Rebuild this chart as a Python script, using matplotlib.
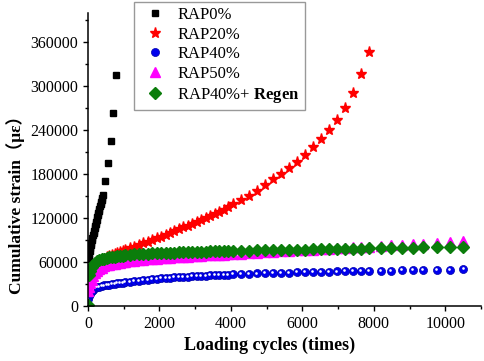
import matplotlib
matplotlib.use("Agg")
import matplotlib.pyplot as plt
from matplotlib.ticker import MultipleLocator
from matplotlib.transforms import offset_copy

plt.rcParams['font.family'] = ['Liberation Serif', 'Noto Sans CJK SC']
plt.rcParams['mathtext.fontset'] = 'custom'
plt.rcParams['mathtext.bf'] = 'Liberation Serif:bold'
plt.rcParams['mathtext.rm'] = 'Liberation Serif'

# RAP0% (black squares)
cycles_0 = [5, 20, 35, 50, 65, 80, 95, 110, 125, 140, 155, 170, 185, 200, 215, 230,
            245, 260, 275, 290, 305, 320, 335, 350, 365, 380, 395, 410,
            485, 560, 636, 700, 775]
strain_0 = [52000, 64000, 71000, 75500, 79500, 83000, 86500, 90000, 93500, 96800,
            100000, 103000, 106000, 109000, 112000, 115000, 118000, 121000, 124000,
            127000, 130000, 133000, 136000, 139000, 142000, 145000, 148000, 151000,
            171000, 195000, 225000, 264000, 316000]

# shared loading cycles for the other mixtures
cycles = [0, 30, 60, 100, 150, 200, 260, 320, 390, 460, 530, 600, 670, 745, 820, 895,
          970, 1045, 1170, 1295, 1420, 1545, 1670, 1795, 1920, 2045, 2170, 2295, 2420,
          2545, 2670, 2795, 2920, 3045, 3170, 3295, 3420, 3545, 3670, 3795, 3920, 4045,
          4270, 4495, 4720, 4945, 5170, 5395, 5620, 5845, 6070, 6295, 6520, 6745, 6970,
          7195, 7420, 7645, 7870, 8200, 8490, 8790, 9090, 9380, 9770, 10140, 10510]

# RAP20% (red stars), stops at 7870 cycles
strain_20 = [32000, 38000, 42000, 46000, 50000, 53000, 56500, 59500, 62500, 64800,
             66800, 68500, 70000, 71500, 73000, 74200, 75500, 76800, 79000, 81200,
             83400, 85600, 87800, 90000, 92300, 94800, 97200, 99700, 102200, 104700,
             107200, 109800, 112400, 115000, 117700, 120400, 123100, 125900, 128700,
             131600, 134500, 139000, 144500, 150500, 157500, 165000, 173000, 180500,
             188200, 196400, 205900, 216400, 227700, 240000, 254600, 270000, 290900,
             316700, 347000]

# RAP40% (blue balls)
strain_40 = [10000, 14000, 17000, 20000, 22500, 24000, 25300, 26300, 27200, 28000,
             28700, 29300, 29900, 30500, 31000, 31500, 32000, 32500, 33300, 34000,
             34700, 35400, 36000, 36600, 37100, 37600, 38100, 38600, 39000, 39400,
             39800, 40200, 40600, 40900, 41200, 41500, 41800, 42100, 42400, 42700,
             43000, 43200, 43600, 44000, 44400, 44700, 45000, 45300, 45600, 45900,
             46200, 46400, 46700, 46900, 47100, 47300, 47500, 47700, 47900, 48200,
             48400, 48600, 48800, 49000, 49300, 49600, 49900]

# RAP50% (magenta triangles)
strain_50 = [21000, 26000, 31000, 36000, 41000, 45000, 48000, 50500, 52500, 54000,
             55300, 56300, 57200, 58000, 58700, 59300, 59900, 60400, 61200, 61900,
             62500, 63100, 63600, 64100, 64600, 65100, 65500, 65900, 66300, 66700,
             67100, 67500, 67900, 68300, 68700, 69000, 69300, 69700, 70000, 70300,
             70700, 71000, 71600, 72200, 72800, 73400, 74000, 74600, 75200, 75800,
             76400, 77000, 77600, 78200, 78800, 79400, 80000, 80600, 81200, 82000,
             82800, 83600, 84400, 85200, 86200, 87200, 88200]

# RAP40% + Regen (green diamonds)
strain_regen = [1500, 42000, 48000, 53000, 56500, 59000, 61000, 62500, 63800, 64800,
                65600, 66300, 66900, 67500, 68000, 68500, 68900, 69300, 69900, 70400,
                70800, 71200, 71500, 71800, 72100, 72400, 72600, 72800, 73000, 73200,
                73400, 73600, 73800, 74000, 74200, 74300, 74500, 74600, 74800, 74900,
                75000, 75100, 75400, 75600, 75800, 76000, 76200, 76400, 76600, 76800,
                77000, 77200, 77400, 77600, 77800, 78000, 78200, 78400, 78600, 78900,
                79200, 79500, 79800, 80100, 80400, 80700, 81000]

fig = plt.figure(figsize=(4.84, 3.61), dpi=100)
ax = fig.add_axes([88 / 484, 55 / 361, 393 / 484, 293 / 361])

ax.plot(cycles_0, strain_0, ls='none', marker='s', ms=5, color='black', label='RAP0%')
ax.plot(cycles[:len(strain_20)], strain_20, ls='none', marker='*', ms=8, color='red',
        label='RAP20%')
ax.plot(cycles, strain_40, ls='none', marker='o', ms=5.8, color='#0000ee', mec='#0000aa',
        mew=0.5, label='RAP40%')
# little white highlight on the blue balls
hl = offset_copy(ax.transData, fig=fig, x=-0.7, y=0.7, units='points')
ax.plot(cycles, strain_40, ls='none', marker='o', ms=1.9, color='white', mew=0,
        transform=hl)
ax.plot(cycles, strain_50, ls='none', marker='^', ms=6.5, color='#ff00ff', label='RAP50%')
ax.plot(cycles, strain_regen, ls='none', marker='D', ms=5.8, color='#0b7d0b',
        label='RAP40%+ $\\mathbf{Regen}$')

ax.set_xlim(0, 11000)
ax.set_ylim(0, 400000)
ax.xaxis.set_major_locator(MultipleLocator(2000))
ax.xaxis.set_minor_locator(MultipleLocator(1000))
ax.yaxis.set_major_locator(MultipleLocator(60000))
ax.yaxis.set_minor_locator(MultipleLocator(30000))
ax.set_yticks(range(0, 360001, 60000))

for s in ['top', 'right']:
    ax.spines[s].set_visible(False)
for s in ['left', 'bottom']:
    ax.spines[s].set_linewidth(1.1)
ax.tick_params(which='major', direction='out', length=3.5, width=1, labelsize=11.5)
ax.tick_params(which='minor', direction='out', length=2.5, width=1)

ax.set_xlabel('Loading cycles (times)', fontsize=13, fontweight='bold')
ax.set_ylabel('Cumulative strain（με）', fontsize=12.5, fontweight='bold')
ax.xaxis.set_label_coords(0.463, -0.105)
ax.yaxis.set_label_coords(-0.16, 0.36)

leg = ax.legend(loc='upper left', bbox_to_anchor=(134 / 484, 1 - 2 / 361),
                bbox_transform=fig.transFigure, fontsize=12, frameon=True,
                fancybox=False, edgecolor='#808080', handlelength=1.9,
                handletextpad=0.4, labelspacing=0.22, borderpad=0.3,
                borderaxespad=0)
leg.get_frame().set_linewidth(1.0)

fig.savefig('out.png', dpi=100)
